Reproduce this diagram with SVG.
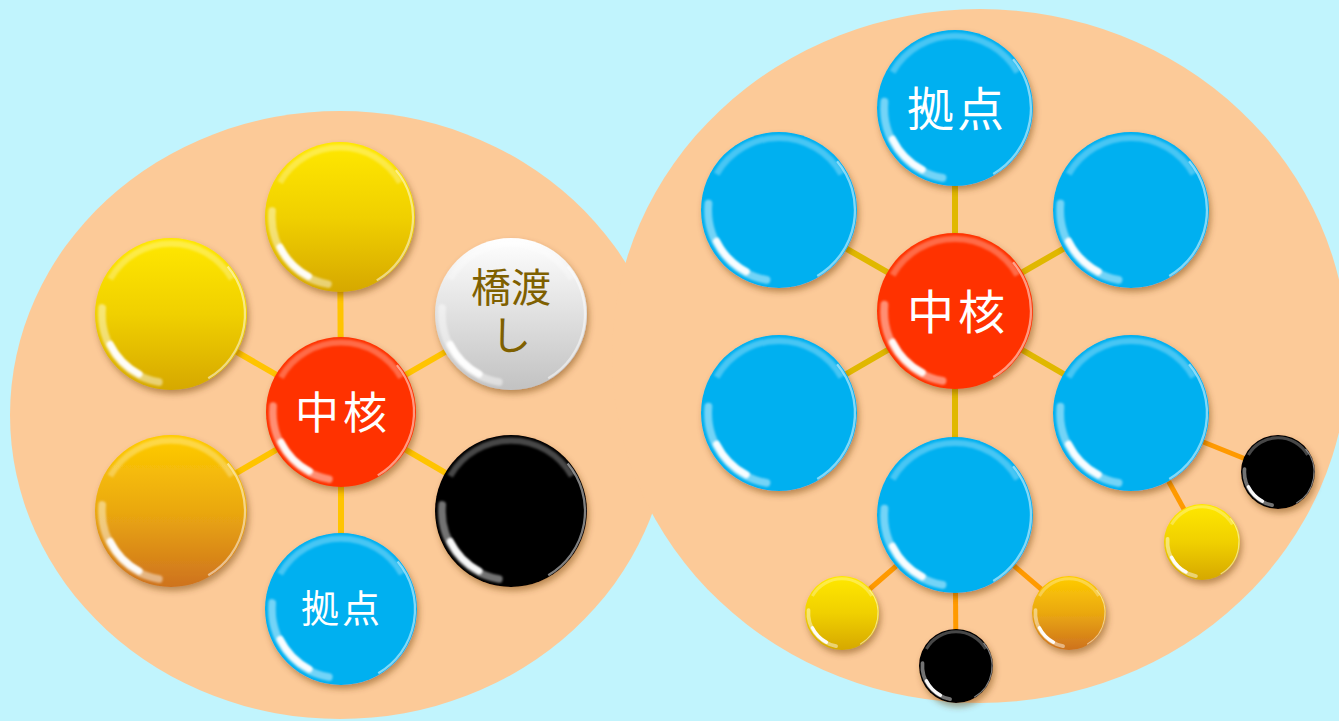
<svg xmlns="http://www.w3.org/2000/svg" xmlns:xlink="http://www.w3.org/1999/xlink" width="1339" height="721" viewBox="0 0 1339 721">
<style>
.bg{fill:#C1F4FD}
.area{fill:#FCCA98}
.cl{stroke:#FFC400;stroke-width:6;stroke-linecap:butt}
.cr{stroke:#E0B800;stroke-width:6}
.cs{stroke:#FF9A00;stroke-width:5}
.base{filter:url(#sh)}
.red{fill:#FF3300}
.blue{fill:#00B0F0}
.black{fill:#000000}
.yellow{fill:url(#gY)}
.gold{fill:url(#gG)}
.white{fill:url(#gW)}
.t{font-family:"Noto Sans CJK JP","Noto Sans",sans-serif;text-anchor:middle;fill:#FFFFFF}
.tb{font-family:"Noto Sans CJK JP","Noto Sans",sans-serif;text-anchor:middle;fill:#7F6000}
</style>
<defs>
<linearGradient id="gY" x1="0" y1="0" x2="0" y2="1">
<stop offset="0" stop-color="#FFE800"/>
<stop offset="0.5" stop-color="#F0D000"/>
<stop offset="1" stop-color="#D6A800"/>
</linearGradient>
<linearGradient id="gG" x1="0" y1="0" x2="0" y2="1">
<stop offset="0" stop-color="#FFCC00"/>
<stop offset="0.5" stop-color="#EAA810"/>
<stop offset="1" stop-color="#CE721E"/>
</linearGradient>
<linearGradient id="gW" x1="0" y1="0" x2="0" y2="1">
<stop offset="0" stop-color="#FFFFFF"/>
<stop offset="1" stop-color="#C2C2C2"/>
</linearGradient>
<filter id="sh" x="-20%" y="-20%" width="150%" height="150%">
<feDropShadow dx="2" dy="4" stdDeviation="3" flood-color="#6B3A10" flood-opacity="0.45"/>
</filter>
<filter id="gb" x="-30%" y="-30%" width="160%" height="160%">
<feGaussianBlur stdDeviation="0.014"/>
</filter>
<g id="gloss">
<path d="M -0.80 -0.46 A 0.92 0.92 0 0 1 0.80 -0.46" fill="none" stroke="#FFFFFF" stroke-opacity="0.28" stroke-width="0.08" filter="url(#gb)"/>
<path d="M 0.745 -0.625 A 0.975 0.975 0 0 1 0.49 0.845" fill="none" stroke="#FFFFFF" stroke-opacity="0.5" stroke-width="0.03"/>
<path d="M -0.905 -0.08 A 0.91 0.91 0 0 0 -0.16 0.895" fill="none" stroke="#FFFFFF" stroke-opacity="0.45" stroke-width="0.1" stroke-linecap="round" filter="url(#gb)"/>
<path d="M -0.80 0.40 A 0.895 0.895 0 0 0 -0.42 0.79" fill="none" stroke="#FFFFFF" stroke-opacity="0.95" stroke-width="0.09" stroke-linecap="round" filter="url(#gb)"/>
</g>
</defs>
<rect class="bg" x="0" y="0" width="1339" height="721"/>
<g id="areas">
<ellipse class="area" cx="340" cy="415" rx="330" ry="304"/>
<ellipse class="area" cx="980" cy="356" rx="368" ry="347"/>
</g>
<g id="connectors">
<line class="cl" x1="341" y1="412" x2="340" y2="217"/>
<line class="cl" x1="341" y1="412" x2="171" y2="314"/>
<line class="cl" x1="341" y1="412" x2="511" y2="314"/>
<line class="cl" x1="341" y1="412" x2="171" y2="511"/>
<line class="cl" x1="341" y1="412" x2="511" y2="511"/>
<line class="cl" x1="341" y1="412" x2="341" y2="609"/>
<line class="cr" x1="955" y1="311" x2="955" y2="108"/>
<line class="cr" x1="955" y1="311" x2="779" y2="210"/>
<line class="cr" x1="955" y1="311" x2="1131" y2="210"/>
<line class="cr" x1="955" y1="311" x2="779" y2="413"/>
<line class="cr" x1="955" y1="311" x2="1131" y2="413"/>
<line class="cr" x1="955" y1="311" x2="955" y2="515"/>
<line class="cs" x1="955" y1="515" x2="842" y2="613"/>
<line class="cs" x1="955" y1="515" x2="956" y2="666"/>
<line class="cs" x1="955" y1="515" x2="1069" y2="613"/>
<line class="cs" x1="1131" y1="413" x2="1202" y2="542"/>
<line class="cs" x1="1131" y1="413" x2="1278" y2="472"/>
</g>
<g id="left-core"><circle class="base red" cx="341" cy="412" r="75"/><use href="#gloss" transform="translate(341 412) scale(75)"/><text class="t" x="343" y="429" font-size="44" letter-spacing="4">中核</text></g>
<g id="left-top"><circle class="base yellow" cx="340" cy="217" r="75"/><use href="#gloss" transform="translate(340 217) scale(75)"/></g>
<g id="left-upper-left"><circle class="base yellow" cx="171" cy="314" r="76"/><use href="#gloss" transform="translate(171 314) scale(76)"/></g>
<g id="left-bridge"><circle class="base white" cx="511" cy="314" r="76"/><use href="#gloss" transform="translate(511 314) scale(76)"/><text class="tb" font-size="40"><tspan x="511" y="302">橋渡</tspan><tspan x="511" y="350">し</tspan></text></g>
<g id="left-lower-left"><circle class="base gold" cx="171" cy="511" r="76"/><use href="#gloss" transform="translate(171 511) scale(76)"/></g>
<g id="left-lower-right"><circle class="base black" cx="511" cy="511" r="76"/><use href="#gloss" transform="translate(511 511) scale(76)"/></g>
<g id="left-base"><circle class="base blue" cx="341" cy="609" r="76"/><use href="#gloss" transform="translate(341 609) scale(76)"/><text class="t" x="342" y="622" font-size="38" letter-spacing="3">拠点</text></g>
<g id="right-core"><circle class="base red" cx="955" cy="311" r="78"/><use href="#gloss" transform="translate(955 311) scale(78)"/><text class="t" x="958" y="329" font-size="47" letter-spacing="4">中核</text></g>
<g id="right-base"><circle class="base blue" cx="955" cy="108" r="78"/><use href="#gloss" transform="translate(955 108) scale(78)"/><text class="t" x="957" y="126" font-size="47" letter-spacing="3">拠点</text></g>
<g id="right-upper-left"><circle class="base blue" cx="779" cy="210" r="78"/><use href="#gloss" transform="translate(779 210) scale(78)"/></g>
<g id="right-upper-right"><circle class="base blue" cx="1131" cy="210" r="78"/><use href="#gloss" transform="translate(1131 210) scale(78)"/></g>
<g id="right-lower-left"><circle class="base blue" cx="779" cy="413" r="78"/><use href="#gloss" transform="translate(779 413) scale(78)"/></g>
<g id="right-lower-right"><circle class="base blue" cx="1131" cy="413" r="78"/><use href="#gloss" transform="translate(1131 413) scale(78)"/></g>
<g id="right-bottom"><circle class="base blue" cx="955" cy="515" r="78"/><use href="#gloss" transform="translate(955 515) scale(78)"/></g>
<g id="small-yellow-1"><circle class="base yellow" cx="842" cy="613" r="37"/><use href="#gloss" transform="translate(842 613) scale(37)"/></g>
<g id="small-black-1"><circle class="base black" cx="956" cy="666" r="37"/><use href="#gloss" transform="translate(956 666) scale(37)"/></g>
<g id="small-gold-1"><circle class="base gold" cx="1069" cy="613" r="37"/><use href="#gloss" transform="translate(1069 613) scale(37)"/></g>
<g id="small-yellow-2"><circle class="base yellow" cx="1202" cy="542" r="38"/><use href="#gloss" transform="translate(1202 542) scale(38)"/></g>
<g id="small-black-2"><circle class="base black" cx="1278" cy="472" r="37"/><use href="#gloss" transform="translate(1278 472) scale(37)"/></g>
</svg>
